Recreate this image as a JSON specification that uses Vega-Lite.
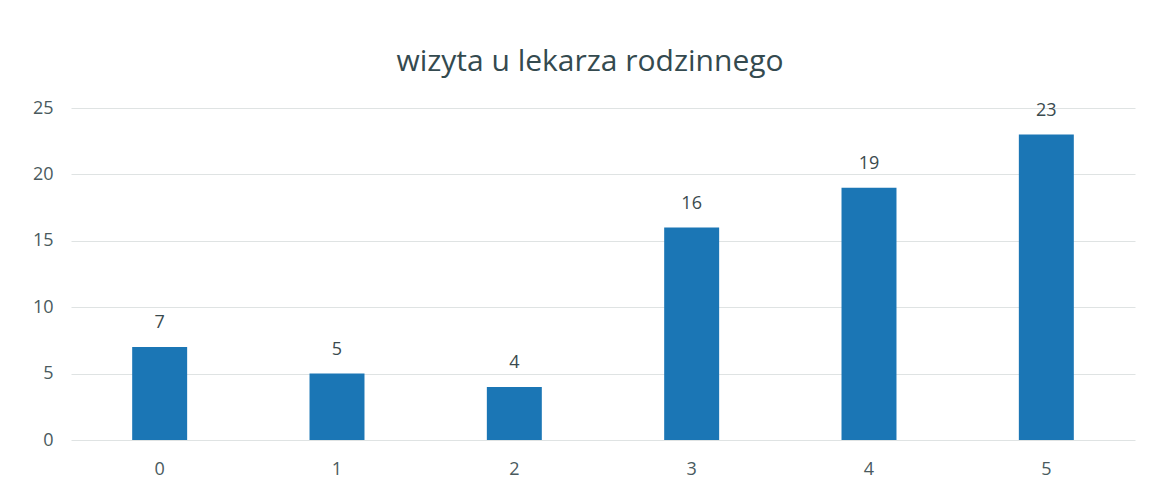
{
  "$schema": "https://vega.github.io/schema/vega-lite/v6.json",
  "autosize": {"type": "none"},
  "width": 1064,
  "height": 332,
  "padding": {"left": 71, "top": 108, "right": 17, "bottom": 56},
  "background": "white",
  "title": {
    "text": "wizyta u lekarza rodzinnego",
    "anchor": "middle",
    "font": "Open Sans",
    "fontSize": 30,
    "fontWeight": "normal",
    "color": "#344a4f",
    "offset": 22,
    "dx": -13
  },
  "config": {"view": {"stroke": null}, "font": "Open Sans"},
  "data": {
    "values": [
      {"kategoria": "0", "liczba": 7},
      {"kategoria": "1", "liczba": 5},
      {"kategoria": "2", "liczba": 4},
      {"kategoria": "3", "liczba": 16},
      {"kategoria": "4", "liczba": 19},
      {"kategoria": "5", "liczba": 23}
    ]
  },
  "encoding": {
    "x": {
      "field": "kategoria",
      "type": "nominal",
      "sort": null,
      "scale": {"paddingInner": 0.69, "paddingOuter": 0.345},
      "axis": {
        "title": null,
        "labelAngle": 0,
        "domain": false,
        "ticks": false,
        "labelFont": "Open Sans",
        "labelFontSize": 18,
        "labelColor": "#4a5a5e",
        "labelPadding": 20
      }
    },
    "y": {
      "field": "liczba",
      "type": "quantitative",
      "scale": {"domain": [0, 25]},
      "axis": {
        "title": null,
        "values": [0, 5, 10, 15, 20, 25],
        "domain": false,
        "ticks": false,
        "grid": true,
        "gridColor": "#dfe3e3",
        "gridWidth": 1,
        "labelFont": "Open Sans",
        "labelFontSize": 18,
        "labelColor": "#4a5a5e",
        "labelPadding": 18
      }
    }
  },
  "layer": [
    {"mark": {"type": "bar", "color": "#1b76b5"}},
    {
      "mark": {"type": "text", "dy": -24, "font": "Open Sans", "fontSize": 18, "color": "#3a4a4e"},
      "encoding": {"text": {"field": "liczba", "type": "quantitative"}}
    }
  ]
}
